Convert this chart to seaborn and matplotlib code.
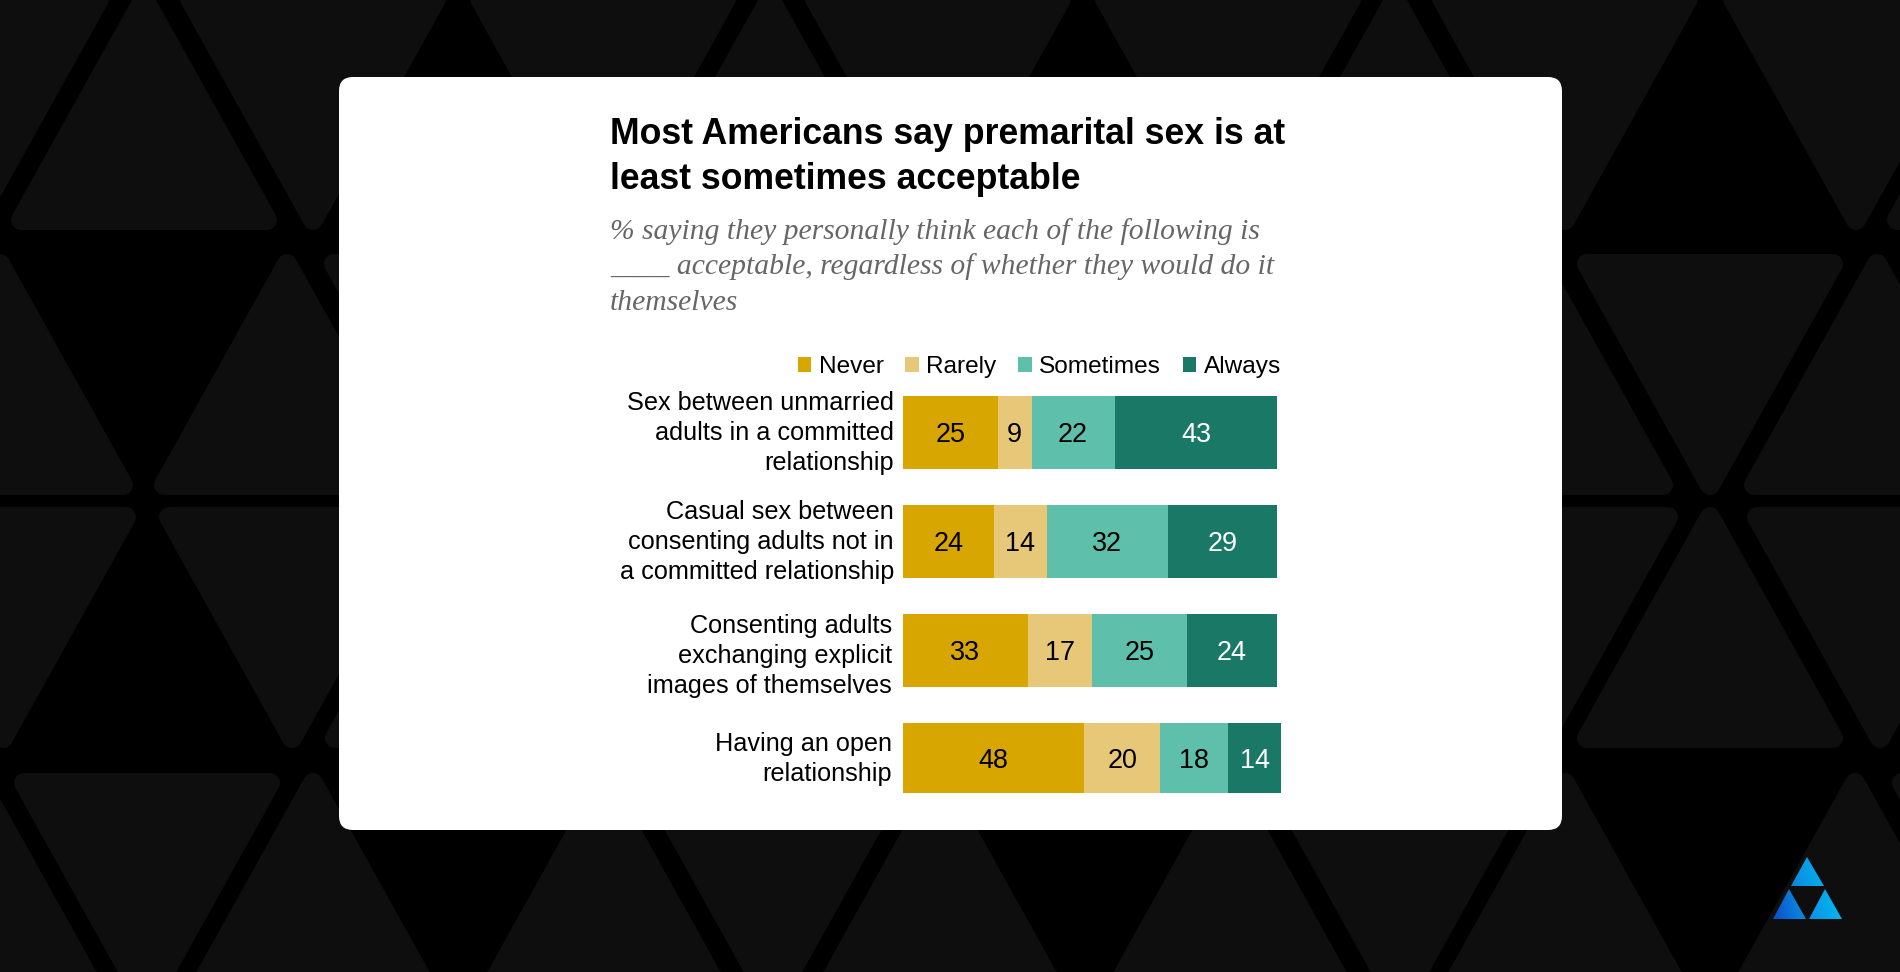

# premarital sex chart on the dark triangle background
import numpy as np
import pandas as pd
import matplotlib
matplotlib.use('Agg')
import matplotlib.pyplot as plt
from matplotlib.patches import Polygon, FancyBboxPatch
from matplotlib.colors import LinearSegmentedColormap
from matplotlib.transforms import ScaledTranslation
import seaborn as sns

W, H = 1900, 972

topics = ['Sex between unmarried\nadults in a committed\nrelationship',
          'Casual sex between\nconsenting adults not in\na committed relationship',
          'Consenting adults\nexchanging explicit\nimages of themselves',
          'Having an open\nrelationship']
responses = ['Never', 'Rarely', 'Sometimes', 'Always']
never = [25, 24, 33, 48]
rarely = [9, 14, 17, 20]
sometimes = [22, 32, 25, 18]
always = [43, 29, 24, 14]
colors = ['#d8a600', '#e6c878', '#5ebfab', '#1a7867']

# background tiles: (center x, top y, up or down), in pixels
ups = [(144, -11), (770, -11), (1395, -11), (2020, -11),
       (0, 254), (287, 254), (1540, 254), (1877, 254),
       (458, 507), (1710, 507),
       (-20, 773), (313, 773), (604, 773), (940, 773), (1230, 773), (1565, 773), (1855, 773)]
downs = [(-24, -11), (313, -11), (603, -11), (938, -11), (1228, -11), (1565, -11), (1856, -11),
         (457, 254), (1710, 254),
         (3, 507), (292, 507), (1545, 507), (1880, 507),
         (147, 773), (773, 773), (1400, 773), (2025, 773)]

sns.set_theme(style='white')
plt.rcParams['font.family'] = ['Liberation Sans', 'DejaVu Sans']


def px(size):
    # font size in points from pixels at dpi 100
    return size * 0.72


def draw_background(fig):
    bg = fig.add_axes([0, 0, 1, 1], zorder=0)
    r = 10
    tile = '#0e0e0e'
    for cx, top in ups:
        pts = [(cx, top + r), (cx - 123, top + 241 - r), (cx + 123, top + 241 - r)]
        bg.add_patch(Polygon(pts, fc=tile, ec=tile, lw=px(2 * r), joinstyle='round'))
    for cx, top in downs:
        pts = [(cx, top + 241 - r), (cx - 123, top + r), (cx + 123, top + r)]
        bg.add_patch(Polygon(pts, fc=tile, ec=tile, lw=px(2 * r), joinstyle='round'))

    # white card
    bg.add_patch(FancyBboxPatch((353, 91), 1195, 725, boxstyle='round,pad=14,rounding_size=14',
                                fc='white', ec='none', zorder=3))

    # logo, one gradient clipped to three triangles
    cmap = LinearSegmentedColormap.from_list('logo', ['#0a4ec6', '#0b93e4', '#04bcf0'])
    grad = np.linspace(0, 1, 200).reshape(1, -1) + np.linspace(0.25, 0, 200).reshape(-1, 1)
    logo = [[(1807, 857), (1791, 886), (1824, 886)],
            [(1789, 889), (1773, 919), (1806, 919)],
            [(1825, 889), (1809, 919), (1842, 919)]]
    for pts in logo:
        im = bg.imshow(grad, extent=(1773, 1842, 919, 857), cmap=cmap, vmin=0, vmax=1.1,
                       aspect='auto', zorder=4)
        im.set_clip_path(Polygon(pts, transform=bg.transData))

    bg.set_xlim(0, W)
    bg.set_ylim(H, 0)
    bg.axis('off')


def draw_bars(fig):
    df = pd.DataFrame({'topic': topics, 'Never': never, 'Rarely': rarely,
                       'Sometimes': sometimes, 'Always': always})
    ax = fig.add_axes([903 / W, 1 - 813.5 / H, 378 / W, 435.5 / H], zorder=5)
    ax.patch.set_alpha(0)
    left = np.zeros(len(topics))
    for name, color in zip(responses, colors):
        sns.barplot(data=df, x=name, y='topic', orient='h', left=left, color=color, label=name,
                    saturation=1, width=0.67, linewidth=0, ax=ax)
        left = left + df[name].values
    for container, name in zip(ax.containers, responses):
        # last row is a bit thinner in the original
        container[3].set_height(0.645)
        labels = ax.bar_label(container, label_type='center', fontsize=px(27),
                              color='white' if name == 'Always' else 'black')
        for t in labels:
            t.set_va('center_baseline')
    ax.set_xlim(0, 100)
    ax.set_xlabel('')
    ax.set_ylabel('')
    ax.xaxis.set_visible(False)
    ax.tick_params(axis='y', length=0, pad=px(9))
    # the labels do not sit quite evenly against their bars in the original
    nudges = [(0, 5), (0, 5), (-2, 0), (-2, 6)]
    for lab, (dx, dy) in zip(ax.get_yticklabels(), nudges):
        lab.set_fontsize(px(25.3))
        lab.set_color('black')
        lab.set_multialignment('right')
        lab.set_linespacing(1.32)
        lab.set_transform(lab.get_transform() + ScaledTranslation(dx / 100, dy / 100, fig.dpi_scale_trans))
    sns.despine(ax=ax, left=True, bottom=True)
    ax.legend(loc='lower right', bbox_to_anchor=(1281 / W, 1 - 378 / H), bbox_transform=fig.transFigure,
              ncol=4, frameon=False, fontsize=px(24.4), handlelength=0.55, handleheight=0.55,
              handletextpad=0.3, columnspacing=0.9, borderpad=0, borderaxespad=0, labelcolor='black')
    return ax


fig = plt.figure(figsize=(W / 100, H / 100), dpi=100, facecolor='black')
draw_background(fig)
draw_bars(fig)

fig.text(610 / W, 1 - 144 / H, 'Most Americans say premarital sex is at', fontsize=px(35.6),
         fontweight='bold', color='black', va='baseline', zorder=6)
fig.text(610 / W, 1 - 189 / H, 'least sometimes acceptable', fontsize=px(35.6),
         fontweight='bold', color='black', va='baseline', zorder=6)

sub = ['% saying they personally think each of the following is',
       '____ acceptable, regardless of whether they would do it',
       'themselves']
for line, y in zip(sub, [239, 274, 310]):
    fig.text(610 / W, 1 - y / H, line, fontsize=px(29.6), family=['Liberation Serif', 'DejaVu Serif'],
             style='italic', color='#666666', va='baseline', zorder=6)

fig.savefig('out.png', dpi=100, facecolor='black')
